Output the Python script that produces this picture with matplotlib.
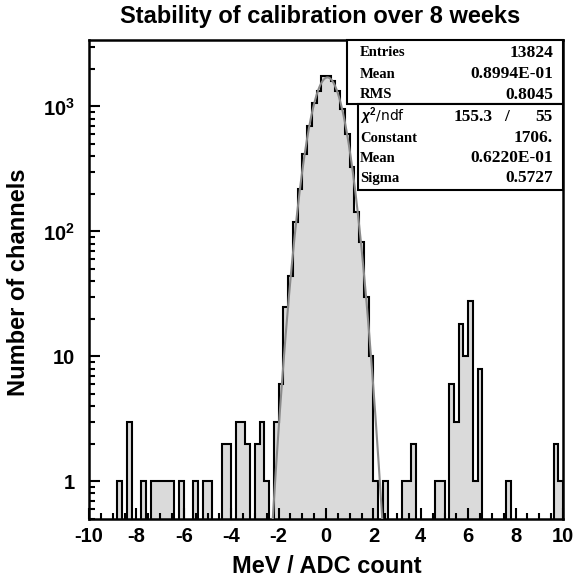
import numpy as np
import matplotlib
matplotlib.use("Agg")
import matplotlib.pyplot as plt
from matplotlib.patches import Rectangle
from matplotlib.ticker import FixedLocator, FixedFormatter, MultipleLocator

# ---------------- data ----------------
bin_low = -10.0
bin_width = 0.2
# counts per 0.2-wide bin from -10 to 10 (100 bins)
counts = [
    0, 0, 0, 0, 0, 0, 1, 0, 3, 0,          # -10.0 .. -8.2
    0, 1, 0, 1, 1, 1, 1, 1, 0, 1,          # -8.0 .. -6.2
    0, 0, 1, 0, 1, 1, 0, 0, 2, 2,          # -6.0 .. -4.2
    0, 3, 3, 2, 0, 2, 3, 1, 0, 3,          # -4.0 .. -2.2
    6, 25, 44, 118, 219, 420, 700, 1070, 1340, 1760,   # -2.0 .. -0.2
    1760, 1610, 1340, 950, 600, 330, 142, 82, 30, 10,  # 0.0 .. 1.8
    1, 0, 1, 0, 0, 0, 1, 1, 2, 0,          # 2.0 .. 3.8
    0, 0, 0, 1, 1, 0, 6, 3, 18, 10,        # 4.0 .. 5.8
    28, 1, 8, 0, 0, 0, 0, 0, 1, 0,         # 6.0 .. 7.8
    0, 0, 0, 0, 0, 0, 0, 0, 2, 1,          # 8.0 .. 9.8
]

# Gaussian fit parameters (from stats box)
fit_constant = 1706.0
fit_mean = 0.0622
fit_sigma = 0.5727

stats_labels = ["Entries", "Mean", "RMS"]
stats_values = ["13824", "0.8994E-01", "0.8045"]
fit_labels = ["Constant", "Mean", "Sigma"]
fit_values = ["1706.", "0.6220E-01", "0.5727"]
chi2_value = "155.3"
ndf_value = "55"

x_ticks = [-10, -8, -6, -4, -2, 0, 2, 4, 6, 8, 10]
y_ticks = [1, 10, 100, 1000]
y_tick_labels = ["1", "10", r"$\mathbf{10^{2}}$", r"$\mathbf{10^{3}}$"]

title = "Stability of calibration over 8 weeks"
xlabel = "MeV / ADC count"
ylabel = "Number of channels"

# ---------------- style ----------------
plt.rcParams["font.family"] = ["Liberation Sans", "DejaVu Sans"]
plt.rcParams["axes.unicode_minus"] = False
plt.rcParams["mathtext.fontset"] = "custom"
plt.rcParams["mathtext.rm"] = "Liberation Sans:bold"
plt.rcParams["mathtext.bf"] = "Liberation Sans:bold"
plt.rcParams["mathtext.it"] = "Liberation Sans:bold:italic"

W, H = 577, 580
fig = plt.figure(figsize=(W / 100, H / 100), dpi=100)

def fx(x):
    return x / W

def fy(y):
    return 1 - y / H

ax_l, ax_r, ax_t, ax_b = 89, 563, 40, 519
ax = fig.add_axes([fx(ax_l), fy(ax_b), fx(ax_r) - fx(ax_l), fy(ax_t) - fy(ax_b)])

counts_arr = np.array(counts, dtype=float)
edges = bin_low + bin_width * np.arange(len(counts) + 1)
draw_vals = np.where(counts_arr > 0, counts_arr, 1e-3)

ax.stairs(draw_vals, edges, baseline=1e-3, fill=True, color="#dadada", zorder=1)
ax.stairs(draw_vals, edges, baseline=1e-3, fill=False, color="black", lw=1.5, zorder=2)

xf = np.linspace(-3.0, 3.0, 600)
yf = fit_constant * np.exp(-0.5 * ((xf - fit_mean) / fit_sigma) ** 2)
ax.plot(xf, yf, color="#8a8a8a", lw=1.5, zorder=3)

ax.set_yscale("log")
ax.set_xlim(-10, 10)
ax.set_ylim(0.5, 3400)

ax.xaxis.set_major_locator(FixedLocator(x_ticks))
ax.xaxis.set_minor_locator(MultipleLocator(0.5))
ax.yaxis.set_major_locator(FixedLocator(y_ticks))
ax.yaxis.set_major_formatter(FixedFormatter(y_tick_labels))
ax.tick_params(axis="both", which="both", direction="in", top=False, right=False,
               width=1.5)
ax.tick_params(axis="both", which="major", length=8, labelsize=14.5)
ax.tick_params(axis="x", which="major", pad=6)
ax.tick_params(axis="y", which="major", pad=10)
ax.tick_params(axis="both", which="minor", length=4)
for lab in ax.get_xticklabels() + ax.get_yticklabels():
    lab.set_fontweight("bold")
for sp in ax.spines.values():
    sp.set_linewidth(1.8)

fig.text(fx(320), fy(16), title, ha="center", va="center", fontsize=17, fontweight="bold")
fig.text(fx(327), fy(573), xlabel, ha="center", va="baseline", fontsize=17, fontweight="bold")
fig.text(fx(19), fy(282), ylabel, ha="center", va="center", rotation=90, fontsize=17,
         fontweight="bold")

# ---------------- stats boxes ----------------
def rect(x0, y0, x1, y1):
    r = Rectangle((fx(x0), fy(y1)), fx(x1) - fx(x0), fy(y0) - fy(y1), transform=fig.transFigure,
                  facecolor="white", edgecolor="black", lw=1.5, zorder=5)
    fig.add_artist(r)

rect(347, 40, 563, 104)
rect(358, 104, 563, 190)

serif = ["Liberation Serif", "DejaVu Serif"]
lab_fs = 10.5
val_fs = 12.5
rows_top = [53, 74, 95]
for y, lab, val in zip(rows_top, stats_labels, stats_values):
    fig.text(fx(360), fy(y), lab, ha="left", va="center", fontsize=lab_fs, fontweight="bold",
             family=serif, zorder=6)
    fig.text(fx(553), fy(y), val, ha="right", va="center", fontsize=val_fs, fontweight="bold",
             family=serif, zorder=6)

fig.text(fx(360), fy(116), r"$\chi^{2}$/ndf", ha="left", va="center", fontsize=10,
         family=["DejaVu Sans"], zorder=6)
fig.text(fx(493), fy(117), chi2_value, ha="right", va="center", fontsize=val_fs, fontweight="bold",
         family=serif, zorder=6)
fig.text(fx(507), fy(117), "/", ha="center", va="center", fontsize=val_fs, fontweight="bold",
         family=serif, zorder=6)
fig.text(fx(553), fy(117), ndf_value, ha="right", va="center", fontsize=val_fs, fontweight="bold",
         family=serif, zorder=6)
rows_fit = [138, 158, 178]
for y, lab, val in zip(rows_fit, fit_labels, fit_values):
    fig.text(fx(360), fy(y), lab, ha="left", va="center", fontsize=lab_fs, fontweight="bold",
             family=serif, zorder=6)
    fig.text(fx(553), fy(y), val, ha="right", va="center", fontsize=val_fs, fontweight="bold",
             family=serif, zorder=6)

fig.savefig("out.png", dpi=100)
